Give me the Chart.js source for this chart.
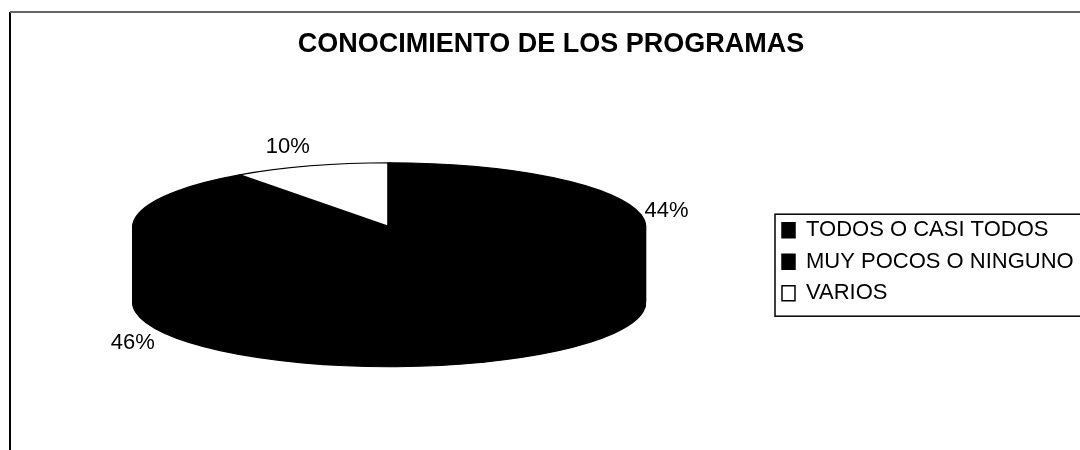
<!DOCTYPE html>
<html>
<head>
<meta charset="utf-8">
<script src="https://cdn.jsdelivr.net/npm/chart.js@4.4.1/dist/chart.umd.min.js"></script>
<style>
  html, body { margin: 0; padding: 0; background: #fff; }
  #wrap { width: 1080px; height: 450px; position: relative; }
</style>
</head>
<body>
<div id="wrap"><canvas id="pieChart"></canvas></div>
<script>
// Chart data
const categories = ['TODOS O CASI TODOS', 'MUY POCOS O NINGUNO', 'VARIOS'];
const percentages = [44, 46, 10];
const chartTitle = 'CONOCIMIENTO DE LOS PROGRAMAS';

const FONT = "'Liberation Sans', Arial, sans-serif";

// 3D look: the flat pie gets squashed into an ellipse and stacked for thickness
const RX = 255;      // half width of the top face
const RY = 64;       // half height of the top face
const DEPTH = 76;    // thickness of the pie
const SHIFT_X = -8;  // move the top face relative to the chart area centre
const SHIFT_Y = -35;

function drawLayer(ctx, meta, lift) {
    meta.data.forEach(arc => {
        ctx.save();
        ctx.translate(arc.x + SHIFT_X, arc.y + SHIFT_Y + lift);
        ctx.scale(RX / arc.outerRadius, RY / arc.outerRadius);
        ctx.translate(-arc.x, -arc.y);
        arc.draw(ctx);
        ctx.restore();
    });
}

const pie3d = {
    id: 'pie3d',
    beforeDraw(chart) {
        // outer frame of the sheet
        const ctx = chart.ctx;
        ctx.save();
        ctx.lineWidth = 2;
        ctx.strokeStyle = '#000';
        ctx.beginPath();
        ctx.moveTo(10, chart.height);
        ctx.lineTo(10, 12);
        ctx.stroke();
        ctx.strokeStyle = '#666';
        ctx.beginPath();
        ctx.moveTo(10, 12);
        ctx.lineTo(chart.width, 12);
        ctx.stroke();
        ctx.restore();
    },
    beforeDatasetsDraw(chart) {
        const ctx = chart.ctx;
        const meta = chart.getDatasetMeta(0);
        for (let k = DEPTH; k >= 0; k--) {
            drawLayer(ctx, meta, k);
        }

        // percentage labels around the pie
        const total = percentages.reduce((a, b) => a + b, 0);
        ctx.save();
        ctx.font = '22px ' + FONT;
        ctx.fillStyle = '#000';
        ctx.textAlign = 'center';
        ctx.textBaseline = 'middle';
        meta.data.forEach((arc, i) => {
            const mid = (arc.startAngle + arc.endAngle) / 2;
            const cos = Math.cos(mid), sin = Math.sin(mid);
            const rimX = arc.x + SHIFT_X + cos * RX;
            const rimY = arc.y + SHIFT_Y + sin * RY + (sin > 0 ? DEPTH : 0);
            const lx = rimX + cos * 30 - 14 * Math.abs(sin);
            const ly = rimY + sin * 20;
            ctx.fillText(Math.round(percentages[i] / total * 100) + '%', lx, ly);
        });
        ctx.restore();
        return false;
    },
    afterDraw(chart) {
        // box around the legend
        const boxes = chart.legend.legendHitBoxes;
        if (!boxes || !boxes.length) return;
        const ctx = chart.ctx;
        const left = boxes[0].left - 7;
        const top = boxes[0].top - 5;
        const last = boxes[boxes.length - 1];
        const bottom = last.top + last.height + 12;
        ctx.save();
        ctx.strokeStyle = '#000';
        ctx.lineWidth = 1.5;
        ctx.strokeRect(left, top, chart.width + 10 - left, bottom - top);
        ctx.restore();
    }
};

const ctx = document.getElementById('pieChart').getContext('2d');

new Chart(ctx, {
    type: 'pie',
    data: {
        labels: categories,
        datasets: [{
            data: percentages,
            backgroundColor: ['#000000', '#000000', '#ffffff'],
            borderColor: '#000000',
            borderWidth: 3,
            clip: false
        }]
    },
    options: {
        responsive: true,
        maintainAspectRatio: false,
        animation: false,
        layout: { padding: { left: 22, right: 0, top: 0, bottom: 0 } },
        plugins: {
            title: {
                display: true,
                text: chartTitle,
                color: '#000',
                font: { family: FONT, size: 27, weight: 'bold' },
                padding: { top: 28, bottom: 13 }
            },
            legend: {
                position: 'right',
                align: 'center',
                fullSize: false,
                maxWidth: 307.5,
                labels: {
                    color: '#000',
                    font: { family: FONT, size: 22 },
                    boxWidth: 13,
                    boxHeight: 15,
                    padding: 9.5,
                    generateLabels(chart) {
                        const items = Chart.overrides.doughnut.plugins.legend.labels.generateLabels(chart);
                        items.forEach(it => { it.lineWidth = 1.5; it.strokeStyle = '#000'; });
                        return items;
                    }
                }
            },
            tooltip: { enabled: false }
        }
    },
    plugins: [pie3d]
});
</script>
</body>
</html>
